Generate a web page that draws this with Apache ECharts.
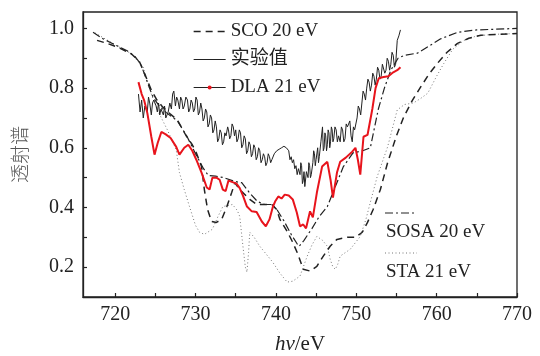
<!DOCTYPE html>
<html>
<head>
<meta charset="utf-8">
<style>
  * { margin: 0; padding: 0; }
  body { background: #ffffff; }
  #chart { width: 540px; height: 356px; }
</style>
</head>
<body>
<div id="chart"></div>
<script src="https://cdn.jsdelivr.net/npm/echarts@6.0.0/dist/echarts.min.js"></script>
<script>
// 坐标刻度
const xTicks = [720, 725, 730, 735, 740, 745, 750, 755, 760, 765, 770];
const xLabels = [720, 730, 740, 750, 760, 770];
const yTicks = [0.2, 0.3, 0.4, 0.5, 0.6, 0.7, 0.8, 0.9, 1.0];
const yLabels = [0.2, 0.4, 0.6, 0.8, 1.0];

// SCO 20 eV (虚线)
const sco = [
  [717.75, 0.96], [719, 0.95], [720.5, 0.935], [722, 0.915], [723, 0.89], [723.8, 0.84],
  [724.5, 0.793], [725.2, 0.76], [725.9, 0.737], [726.8, 0.715], [727.75, 0.693], [728.9, 0.637],
  [729.6, 0.61], [730.1, 0.583], [730.75, 0.537], [731.1, 0.46], [731.5, 0.393], [732, 0.353],
  [732.6, 0.35], [733.25, 0.36], [733.9, 0.403], [734.5, 0.45], [734.9, 0.483], [735.5, 0.46],
  [736.75, 0.427], [737.6, 0.41], [738.6, 0.41], [739.5, 0.41], [740.1, 0.393], [740.5, 0.36],
  [741.4, 0.32], [742.1, 0.283], [742.75, 0.243], [743.4, 0.193], [744.25, 0.187], [745.1, 0.203],
  [745.9, 0.237], [746.75, 0.27], [747.6, 0.293], [748.9, 0.3], [749.9, 0.3], [750.75, 0.317],
  [751.4, 0.35], [752.1, 0.393], [753, 0.46], [753.9, 0.55], [755, 0.64], [755.9, 0.703],
  [757, 0.76], [758, 0.803], [759, 0.845], [760.1, 0.883], [761.3, 0.92], [762.6, 0.95],
  [764, 0.967], [765.5, 0.977], [767.5, 0.98], [770, 0.983]
];

// 实验值 (实线)
const expt = [
  [722.9, 0.78], [723.1, 0.72], [723.3, 0.76], [723.5, 0.70], [723.7, 0.74], [724.0, 0.72],
  [724.15, 0.77], [724.3, 0.75], [724.5, 0.71], [724.65, 0.75], [724.8, 0.76], [725.1, 0.74],
  [725.25, 0.72], [725.4, 0.75], [725.55, 0.71], [725.7, 0.73], [726.0, 0.71], [726.15, 0.74],
  [726.3, 0.70], [726.6, 0.72], [726.8, 0.75], [727.0, 0.73], [727.15, 0.78], [727.3, 0.79],
  [727.5, 0.74], [727.65, 0.77], [727.8, 0.76], [728.0, 0.73], [728.15, 0.77], [728.3, 0.76],
  [728.45, 0.73], [728.6, 0.74], [728.8, 0.77], [729.0, 0.76], [729.15, 0.72], [729.3, 0.73],
  [729.45, 0.76], [729.6, 0.75], [729.75, 0.72], [729.9, 0.73], [730.05, 0.77], [730.2, 0.76],
  [730.35, 0.71], [730.5, 0.72], [730.65, 0.75], [730.8, 0.73], [730.95, 0.69], [731.1, 0.70],
  [731.25, 0.73], [731.4, 0.72], [731.55, 0.67], [731.7, 0.68], [731.85, 0.71], [732.0, 0.70],
  [732.15, 0.65], [732.3, 0.66], [732.45, 0.69], [732.6, 0.67], [732.75, 0.62], [732.9, 0.63],
  [733.05, 0.66], [733.2, 0.65], [733.35, 0.61], [733.5, 0.62], [733.65, 0.65], [733.8, 0.64],
  [734.0, 0.67], [734.1, 0.66], [734.25, 0.63], [734.4, 0.64], [734.55, 0.68], [734.7, 0.67],
  [734.85, 0.64], [735.0, 0.66], [735.15, 0.62], [735.3, 0.63], [735.45, 0.66], [735.6, 0.65],
  [735.75, 0.60], [735.9, 0.61], [736.05, 0.64], [736.2, 0.63], [736.35, 0.58], [736.5, 0.59],
  [736.65, 0.62], [736.8, 0.61], [736.95, 0.57], [737.1, 0.58], [737.25, 0.61], [737.4, 0.60],
  [737.55, 0.56], [737.7, 0.57], [737.85, 0.60], [738.0, 0.59], [738.15, 0.55], [738.3, 0.56],
  [738.45, 0.58], [738.6, 0.57], [738.75, 0.54], [738.9, 0.55], [739.05, 0.58], [739.2, 0.57],
  [739.35, 0.55], [739.5, 0.56], [739.8, 0.58], [740.1, 0.59], [740.4, 0.595], [740.7, 0.60],
  [741.0, 0.605], [741.3, 0.60], [741.6, 0.59], [741.75, 0.56], [741.9, 0.57], [742.05, 0.55],
  [742.2, 0.56], [742.35, 0.53], [742.5, 0.54], [742.65, 0.51], [742.8, 0.53], [743.0, 0.51],
  [743.1, 0.55], [743.2, 0.54], [743.3, 0.48], [743.4, 0.49], [743.5, 0.52], [743.6, 0.47],
  [743.8, 0.52], [744.0, 0.50], [744.1, 0.55], [744.2, 0.54], [744.3, 0.50], [744.4, 0.51],
  [744.6, 0.55], [744.7, 0.59], [744.8, 0.58], [744.9, 0.54], [745.0, 0.56], [745.2, 0.60],
  [745.3, 0.55], [745.4, 0.57], [745.6, 0.62], [745.8, 0.67], [745.9, 0.59], [746.0, 0.60],
  [746.1, 0.65], [746.2, 0.64], [746.3, 0.59], [746.4, 0.61], [746.5, 0.66], [746.6, 0.65],
  [746.7, 0.60], [746.8, 0.62], [746.9, 0.67], [747.0, 0.66], [747.1, 0.62], [747.2, 0.63],
  [747.35, 0.67], [747.5, 0.66], [747.65, 0.62], [747.8, 0.64], [748.0, 0.62], [748.15, 0.67],
  [748.3, 0.66], [748.45, 0.62], [748.6, 0.63], [748.75, 0.68], [748.9, 0.67], [749.2, 0.69],
  [749.35, 0.64], [749.5, 0.62], [749.65, 0.67], [749.8, 0.66], [750.1, 0.70], [750.25, 0.74],
  [750.4, 0.73], [750.55, 0.71], [750.7, 0.75], [750.85, 0.79], [751.0, 0.78], [751.15, 0.76],
  [751.3, 0.80], [751.45, 0.83], [751.6, 0.82], [751.75, 0.79], [751.9, 0.81], [752.05, 0.85],
  [752.2, 0.84], [752.35, 0.81], [752.5, 0.83], [752.65, 0.87], [752.8, 0.86], [752.95, 0.83],
  [753.1, 0.84], [753.25, 0.88], [753.4, 0.88], [753.55, 0.85], [753.7, 0.86], [753.85, 0.90],
  [754.0, 0.89], [754.15, 0.86], [754.3, 0.88], [754.45, 0.92], [754.6, 0.91], [754.75, 0.87],
  [754.9, 0.88], [755.1, 0.96], [755.3, 0.975], [755.5, 0.995]
];

// DLA 21 eV (红线)
const dla = [
  [722.9, 0.82], [723.3, 0.78], [723.6, 0.76], [724.0, 0.717], [724.5, 0.637], [724.9, 0.577],
  [725.3, 0.617], [725.75, 0.653], [726.3, 0.645], [726.9, 0.633], [727.6, 0.603], [728.0, 0.577],
  [728.6, 0.60], [729.1, 0.61], [729.6, 0.59], [730.1, 0.56], [730.75, 0.517], [731.4, 0.467],
  [731.75, 0.46], [732.1, 0.50], [732.6, 0.50], [733.0, 0.493], [733.4, 0.46], [733.75, 0.455],
  [734.1, 0.49], [734.6, 0.485], [735.1, 0.48], [735.5, 0.465], [735.9, 0.44], [736.4, 0.403],
  [737.0, 0.387], [737.6, 0.385], [738.25, 0.353], [738.75, 0.337], [739.2, 0.36], [739.6, 0.40],
  [739.9, 0.42], [740.3, 0.437], [740.7, 0.43], [741.1, 0.443], [741.6, 0.44], [742.1, 0.427],
  [742.6, 0.383], [743.0, 0.337], [743.4, 0.343], [743.75, 0.33], [744.25, 0.387], [744.6, 0.367],
  [745.1, 0.45], [745.75, 0.537], [746.4, 0.553], [746.8, 0.493], [747.1, 0.433], [747.6, 0.517],
  [748.0, 0.553], [748.7, 0.567], [749.5, 0.587], [749.9, 0.60], [750.2, 0.56], [750.5, 0.51],
  [750.9, 0.637], [751.4, 0.643], [752.0, 0.73], [752.4, 0.80], [752.8, 0.833], [753.4, 0.837],
  [754.0, 0.84], [754.6, 0.853], [755.1, 0.86], [755.5, 0.87]
];

// SOSA 20 eV (点划线)
const sosa = [
  [717.25, 0.987], [718.5, 0.965], [720, 0.945], [721.5, 0.925], [722.5, 0.905], [723.2, 0.88],
  [724, 0.82], [724.7, 0.77], [725.5, 0.74], [726.4, 0.717], [727.75, 0.69], [728.9, 0.64],
  [730, 0.58], [731, 0.53], [731.6, 0.507], [732.5, 0.505], [733.5, 0.5], [734.9, 0.487],
  [735.75, 0.483], [736.7, 0.45], [737.7, 0.42], [738.6, 0.41], [739.5, 0.41], [740.2, 0.39],
  [741, 0.355], [741.9, 0.31], [742.6, 0.28], [742.9, 0.27], [743.5, 0.29], [744.5, 0.33],
  [745.4, 0.37], [746.4, 0.403], [747.4, 0.47], [748.4, 0.537], [749.6, 0.583], [750.8, 0.59],
  [751.75, 0.6], [752.75, 0.73], [753.5, 0.8], [754.3, 0.86], [755.2, 0.9], [756, 0.91],
  [757.6, 0.917], [759, 0.94], [760.5, 0.965], [762.6, 0.987], [765, 0.995], [770, 1.0]
];

// STA 21 eV (点线)
const sta = [
  [717.5, 0.985], [720, 0.945], [722, 0.915], [723.5, 0.87], [724.5, 0.78], [725.25, 0.727],
  [726.5, 0.66], [727.6, 0.593], [728, 0.517], [728.6, 0.46], [729.25, 0.403], [730, 0.34],
  [730.5, 0.317], [731.1, 0.31], [732.1, 0.327], [732.8, 0.37], [733.4, 0.403], [734.6, 0.41],
  [735.2, 0.39], [735.5, 0.37], [735.9, 0.27], [736.2, 0.2], [736.4, 0.183], [736.6, 0.25],
  [736.75, 0.317], [737.3, 0.3], [738, 0.27], [739.6, 0.217], [740.5, 0.18], [741.4, 0.15],
  [742.1, 0.153], [743, 0.17], [743.9, 0.237], [744.5, 0.275], [745.1, 0.303], [745.8, 0.29],
  [746.4, 0.27], [746.75, 0.227], [747.1, 0.2], [747.4, 0.193], [747.7, 0.21], [748, 0.237],
  [749.25, 0.26], [750.5, 0.303], [751.2, 0.36], [751.75, 0.417], [752.6, 0.503], [753.9, 0.603],
  [755.1, 0.727], [756, 0.745], [757.1, 0.75], [758, 0.765], [758.9, 0.783], [760, 0.84],
  [760.9, 0.883], [762, 0.93], [763.4, 0.96], [765, 0.975], [767, 0.98], [770, 0.983]
];

const SERIF = '"Liberation Serif", "Noto Sans CJK SC", serif';
const INK = '#222';

const chart = echarts.init(document.getElementById('chart'), null, { renderer: 'canvas' });

const option = {
  backgroundColor: '#ffffff',
  animation: false,
  grid: {
    left: 83, right: 23, top: 12, bottom: 59,
    outerBoundsMode: 'none',
    containLabel: false,
    show: true, borderColor: INK, borderWidth: 1.3, backgroundColor: 'transparent'
  },
  legend: {
    orient: 'vertical',
    left: 188,
    top: 17,
    itemWidth: 32,
    itemHeight: 5,
    itemGap: 9,
    textStyle: { fontFamily: SERIF, fontSize: 19, color: INK },
    data: [
      { name: 'SCO 20 eV', itemStyle: { opacity: 0 }, lineStyle: { width: 1.3 } },
      { name: '实验值', itemStyle: { opacity: 0 }, lineStyle: { width: 1 } },
      { name: 'DLA 21 eV', itemStyle: { color: '#e8141c' }, lineStyle: { color: INK, width: 1 } }
    ]
  },
  xAxis: {
    type: 'value',
    min: 716,
    max: 770,
    name: '{i|hv}{n|/eV}',
    nameLocation: 'middle',
    nameGap: 37,
    nameTextStyle: {
      rich: {
        i: { fontFamily: SERIF, fontStyle: 'italic', fontSize: 21, color: INK },
        n: { fontFamily: SERIF, fontSize: 21, color: INK }
      }
    },
    axisLine: { show: true, onZero: false, lineStyle: { color: INK, width: 1.3 } },
    axisTick: { show: true, inside: true, length: 4, customValues: xTicks, lineStyle: { color: INK, width: 1.2 } },
    axisLabel: {
      customValues: xLabels,
      fontFamily: SERIF, fontSize: 20, color: INK, margin: 8
    },
    splitLine: { show: false }
  },
  yAxis: {
    type: 'value',
    min: 0.1,
    max: 1.055,
    name: '透射谱',
    nameLocation: 'middle',
    nameRotate: 90,
    nameGap: 54,
    nameTextStyle: { fontFamily: '"Noto Sans CJK SC"', fontSize: 19, color: '#555', fontWeight: 300 },
    axisLine: { show: true, onZero: false, lineStyle: { color: INK, width: 1.3 } },
    axisTick: { show: true, inside: true, length: 4, customValues: yTicks, lineStyle: { color: INK, width: 1.2 } },
    axisLabel: {
      customValues: yLabels,
      formatter: v => Number(v).toFixed(1),
      fontFamily: SERIF, fontSize: 20, color: INK, margin: 9
    },
    splitLine: { show: false }
  },
  graphic: [
    {
      type: 'line', shape: { x1: 385, y1: 213, x2: 417, y2: 213 },
      style: { stroke: INK, lineWidth: 1.2, lineDash: [8, 3, 2, 3] }
    },
    {
      type: 'text', x: 386, y: 232,
      style: { text: 'SOSA 20 eV', font: '19px ' + SERIF, fill: INK, textVerticalAlign: 'middle' }
    },
    {
      type: 'line', shape: { x1: 385, y1: 253, x2: 417, y2: 253 },
      style: { stroke: '#777', lineWidth: 1, lineDash: [1, 2.5] }
    },
    {
      type: 'text', x: 386, y: 272,
      style: { text: 'STA 21 eV', font: '19px ' + SERIF, fill: INK, textVerticalAlign: 'middle' }
    }
  ],
  series: [
    {
      name: 'STA 21 eV', type: 'line', data: sta, symbol: 'none',
      lineStyle: { color: '#777', width: 1, type: [1, 2.5] }
    },
    {
      name: 'SOSA 20 eV', type: 'line', data: sosa, symbol: 'none',
      lineStyle: { color: INK, width: 1.2, type: [8, 3, 2, 3] }
    },
    {
      name: 'SCO 20 eV', type: 'line', data: sco, symbol: 'none',
      lineStyle: { color: INK, width: 1.5, type: [7, 5] }
    },
    {
      name: '实验值', type: 'line', data: expt, symbol: 'none',
      lineStyle: { color: INK, width: 1 }
    },
    {
      name: 'DLA 21 eV', type: 'line', data: dla, symbol: 'none',
      lineStyle: { color: '#e8141c', width: 2 }
    }
  ]
};

chart.setOption(option);
</script>
</body>
</html>
